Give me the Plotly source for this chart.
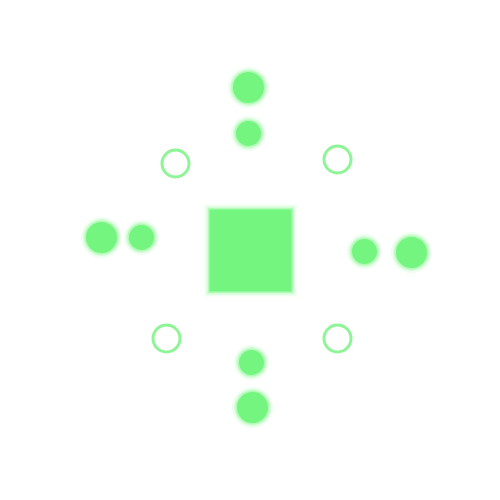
import plotly.graph_objects as go

big_x = [248, 101, 411, 252]
big_y = [87, 237, 252, 407]
small_x = [248, 141, 364, 251]
small_y = [133, 237, 251, 362]
ring_x = [175, 337, 166, 337]
ring_y = [163, 159, 338, 338]
sq_x = [250]
sq_y = [250]

G = "#74f57f"
fig = go.Figure()
def glow(x, y, size, symbol="circle", fill=True):
    for extra, op in [(10, 0.12), (6, 0.2), (3, 0.35)]:
        if fill:
            fig.add_trace(go.Scatter(x=x, y=y, mode="markers", hoverinfo="skip",
                marker=dict(size=size+extra, color=G, opacity=op, symbol=symbol, line=dict(width=0))))
        else:
            fig.add_trace(go.Scatter(x=x, y=y, mode="markers", hoverinfo="skip",
                marker=dict(size=size, color="rgba(0,0,0,0)", symbol="circle-open",
                            opacity=op, line=dict(width=extra, color=G))))
    if fill:
        fig.add_trace(go.Scatter(x=x, y=y, mode="markers",
            marker=dict(size=size, color=G, symbol=symbol, line=dict(width=0))))
    else:
        fig.add_trace(go.Scatter(x=x, y=y, mode="markers",
            marker=dict(size=size, color="white", symbol="circle",
                        line=dict(width=3, color="#8ef596"))))

glow(sq_x, sq_y, 82, "square")
glow(big_x, big_y, 31)
glow(small_x, small_y, 25)
glow(ring_x, ring_y, 27, fill=False)

fig.update_layout(width=500, height=500, margin=dict(l=0, r=0, t=0, b=0),
                  paper_bgcolor="white", plot_bgcolor="white", showlegend=False,
                  xaxis=dict(range=[7.5, 507.5], visible=False),
                  yaxis=dict(range=[507.5, 7.5], visible=False))
fig.write_html("out.html")
